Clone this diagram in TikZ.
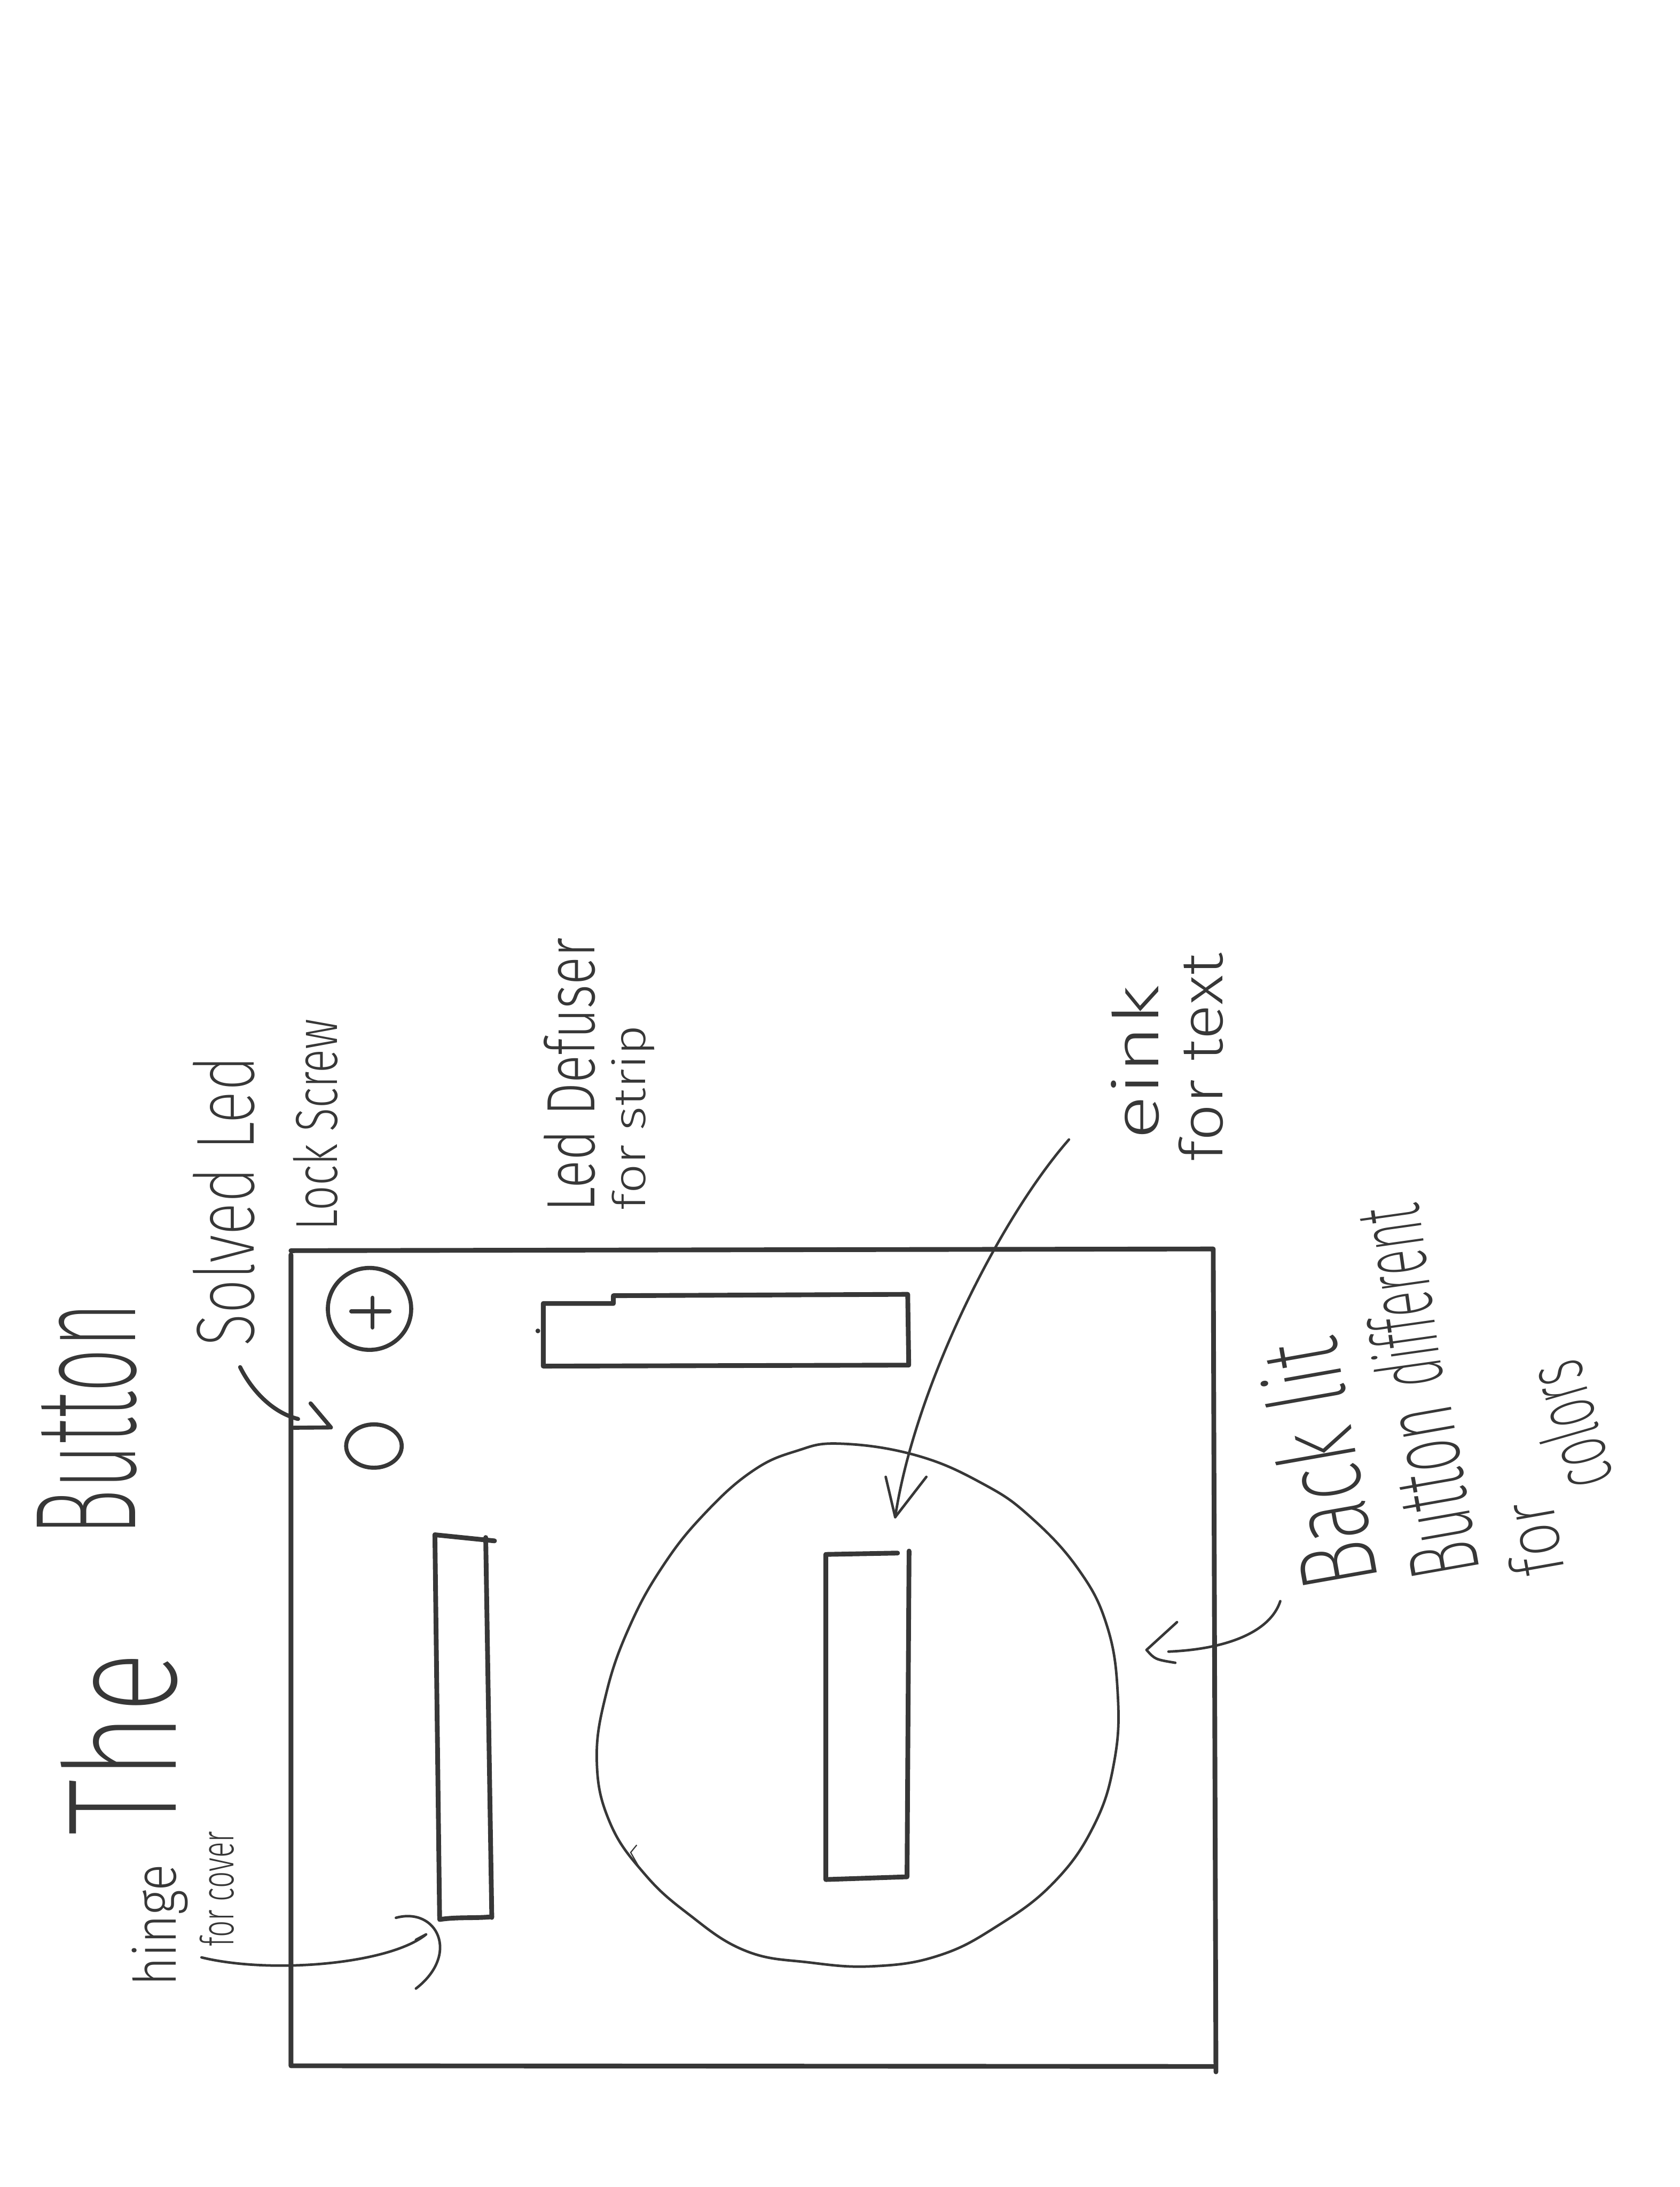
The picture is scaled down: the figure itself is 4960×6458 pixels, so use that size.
\documentclass[tikz,border=0pt]{standalone}
\usepackage{fontspec}
\newfontfamily\hand{Fira Sans}[UprightFont={* Light}]
\newfontfamily\handx{Fira Sans}[UprightFont={* ExtraLight}]
\definecolor{ink}{RGB}{55,55,55}
\newcommand{\hw}[3]{\resizebox{#1}{#2}{\hand #3}}
\newcommand{\hwx}[3]{\resizebox{#1}{#2}{\handx #3}}
\begin{document}
\begin{tikzpicture}[x=0.01cm,y=-0.01cm,
  pen/.style={draw=ink,line width=0.14cm,line cap=round,line join=round},
  mid/.style={draw=ink,line width=0.12cm,line cap=round,line join=round},
  fine/.style={draw=ink,line width=0.075cm,line cap=round,line join=round},
  lbl/.style={inner sep=0pt,outer sep=0pt,anchor=base west,text=ink}]
\fill[white] (0,0) rectangle (4960,6458);
\useasboundingbox (0,0) rectangle (4960,6458);

% ---------- frame ----------
\coordinate (fTL) at (859,3693);
\coordinate (fTR) at (3582,3688);
\coordinate (fBR) at (3590,6118);
\coordinate (fBL) at (859,6100);
\draw[pen] (fTL) -- (fTR) -- (fBR);
\draw[pen] (859,3705) -- (fBL) -- (3585,6102);

% ---------- lock screw ----------
\draw[mid] (1091,3865) ellipse [x radius=123, y radius=121];
\draw[mid] (1037,3872) -- (1150,3872) (1100,3832) -- (1100,3920);

% ---------- solved led ----------
\coordinate (ledC) at (1104,4270);
\draw[mid] (ledC) ellipse [x radius=82, y radius=64];

% ---------- led diffuser strip ----------
\draw[pen] (1604,3849) -- (1811,3849) -- (1811,3826) -- (2680,3822) -- (2683,4031) -- (1604,4034) -- cycle;
\fill[ink] (1588,3930) circle [radius=7];

% ---------- hinge strip ----------
\draw[pen] (1284,4532) -- (1460,4550);
\draw[pen] (1284,4532) -- (1298,5668) .. controls (1350,5660) and (1400,5665) .. (1452,5660);
\draw[pen] (1434,4540) -- (1452,5662);

% ---------- back lit button (egg) ----------
\draw[fine] plot[smooth cycle, tension=0.7] coordinates {
 (2482,4263) (2707,4298) (2903,4382) (3043,4480) (3184,4634) (3268,4800)
 (3300,5000) (3290,5200) (3230,5390) (3110,5560) (2940,5690) (2770,5775)
 (2580,5806) (2390,5795) (2200,5760) (2030,5650) (1900,5530) (1800,5380)
 (1762,5200) (1790,5000) (1860,4800) (1960,4620) (2080,4470) (2220,4345) (2350,4285)};
\draw[draw=ink,line width=0.035cm] (1880,5448) -- (1862,5470) -- (1885,5510);

% ---------- eink display ----------
\draw[pen] (2650,4586) -- (2438,4590) -- (2438,5550) -- (2678,5542) -- (2684,4580);

% ---------- labels ----------
\node[lbl,rotate=90] (tThe) at (520,5420) {\hwx{5.41cm}{3.4cm}{The}};
\node[lbl,rotate=90] (tButton) at (400,4535) {\hwx{6.88cm}{2.9cm}{Button}};
\node[lbl,rotate=90] (lHinge) at (520,5865) {\hw{3.6cm}{1.3cm}{hinge}};
\node[lbl,rotate=90] (lCover) at (690,5748) {\hw{3.4cm}{1.0cm}{for cover}};
\node[lbl,rotate=90] (lSolved) at (750,3976) {\hwx{8.57cm}{1.8cm}{Solved Led}};
\node[lbl,rotate=90] (lLock) at (995,3633) {\hw{6.24cm}{1.3cm}{Lock Screw}};
\node[lbl,rotate=90] (lDefuser) at (1755,3578) {\hw{8.08cm}{1.5cm}{Led Defuser}};
\node[lbl,rotate=90] (lStrip) at (1905,3573) {\hw{5.46cm}{1.0cm}{for strip}};
\node[lbl,rotate=90] (lEink) at (3420,3365) {\hw{4.55cm}{1.4cm}{eink}};
\node[lbl,rotate=90] (lText) at (3610,3430) {\hw{6.15cm}{1.3cm}{for text}};
\node[lbl,rotate=100] (lBack) at (4070,4670) {\hwx{7.4cm}{2.4cm}{Back lit}};
\node[lbl,rotate=100] (lButton) at (4370,4640) {\hwx{5.1cm}{2.0cm}{Button}};
\node[lbl,rotate=98] (lDiff) at (4262,4085) {\hwx{5.4cm}{2.0cm}{different}};
\node[lbl,rotate=100] (lFor) at (4620,4640) {\hwx{2.2cm}{1.6cm}{for}};
\node[lbl,rotate=106] (lColors) at (4765,4370) {\hwx{3.8cm}{1.8cm}{colors}};

% ---------- connectors ----------
% eink
\coordinate (eS) at (3156,3365);
\coordinate (eT) at (2643,4480);
\draw[fine] (eS) .. controls (2950,3600) and (2700,4100) .. (eT);
\draw[fine] (2615,4361) -- (eT) -- (2735,4361);
% back lit
\coordinate (bS) at (3780,4728);
\coordinate (bT) at (3385,4872);
\draw[fine] (bS) .. controls (3750,4820) and (3620,4870) .. (3450,4877);
\draw[fine] (3475,4790) .. controls (3430,4830) .. (bT) .. controls (3410,4900) .. (3470,4910);
% solved led
\coordinate (sS) at (709,4037);
\coordinate (sT) at (977,4215);
\draw[mid] (sS) .. controls (740,4100) and (800,4170) .. (880,4190);
\draw[mid] (917,4144) -- (sT) -- (867,4216);
% hinge
\coordinate (hS) at (595,5780);
\coordinate (hT) at (1258,5712);
\draw[fine] (hS) .. controls (800,5830) and (1150,5800) .. (hT) -- (1228,5728);
\draw[fine] (1169,5663) .. controls (1290,5630) and (1360,5770) .. (1228,5872);
\end{tikzpicture}
\end{document}
